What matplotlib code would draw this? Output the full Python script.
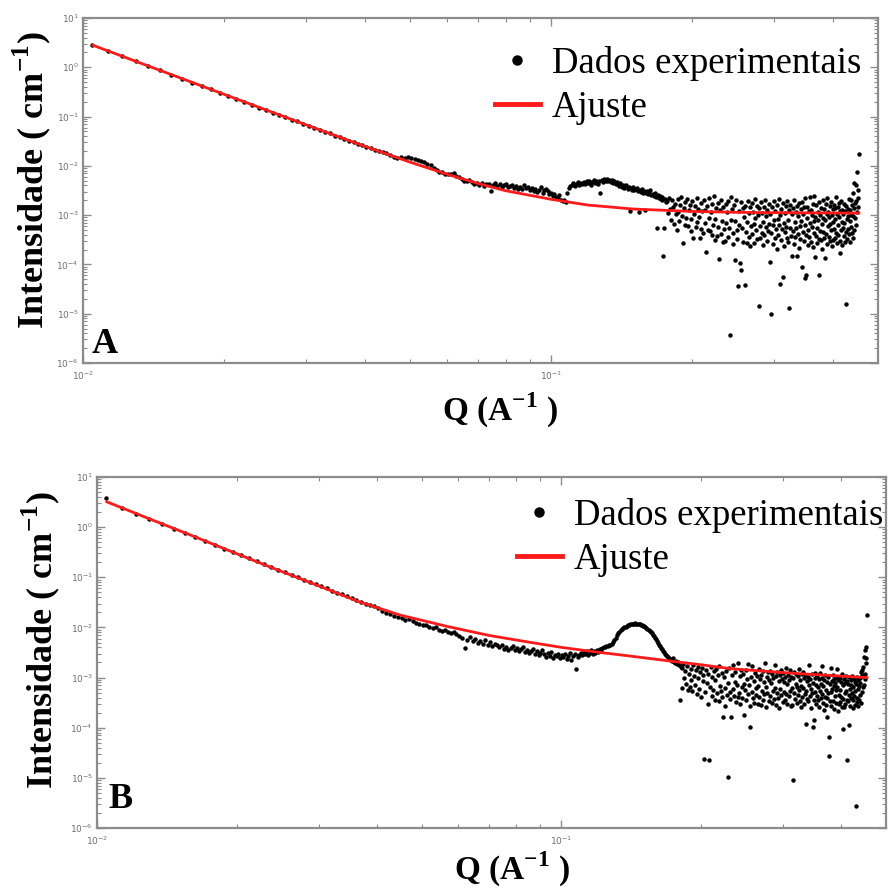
import numpy as np
import matplotlib
matplotlib.use("Agg")
import matplotlib.pyplot as plt
from matplotlib.lines import Line2D
from matplotlib.ticker import LogLocator, FuncFormatter, NullFormatter

plt.rcParams["mathtext.fontset"] = "custom"
plt.rcParams["mathtext.rm"] = "Liberation Serif"
plt.rcParams["mathtext.bf"] = "Liberation Serif:bold"
plt.rcParams["mathtext.sf"] = "DejaVu Sans"

# ---------------------------------------------------------------------------
# Measured q grid (uniform instrument binning, 1/Angstrom)
Q_START = 0.01047
Q_STEP = 0.00083

# Sample A: log10 of intensity (cm^-1) on the q grid
A_LOW = [0.45, 0.34, 0.22, 0.12, 0.03, -0.06, -0.15, -0.23, -0.31, -0.38,
         -0.45, -0.52, -0.58, -0.64, -0.70, -0.76, -0.82, -0.87, -0.92, -0.97,
         -1.01, -1.06, -1.10, -1.15, -1.19, -1.23, -1.27, -1.31, -1.34, -1.39,
         -1.42, -1.45, -1.49, -1.51, -1.56, -1.58, -1.61, -1.63, -1.68, -1.69,
         -1.71, -1.73, -1.77, -1.82, -1.85]
A_MID = [-1.82, -1.84, -1.83, -1.85, -1.87, -1.88, -1.91, -1.92, -1.96, -1.99,
         -2.05, -2.09, -2.12, -2.13, -2.16, -2.17, -2.16, -2.14, -2.20, -2.22,
         -2.27, -2.30, -2.31, -2.29, -2.33, -2.36, -2.34, -2.38, -2.35, -2.41, -2.37,
         -2.36, -2.52, -2.38, -2.35, -2.40, -2.37, -2.42, -2.39, -2.36, -2.43,
         -2.41, -2.38, -2.44, -2.40, -2.46, -2.42, -2.47, -2.39, -2.45, -2.43,
         -2.48, -2.44, -2.51, -2.46, -2.53, -2.49, -2.42, -2.55, -2.50, -2.47,
         -2.52, -2.58, -2.55, -2.61, -2.57, -2.63, -2.66, -2.60, -2.69, -2.72,
         -2.70, -2.74, -2.55, -2.45, -2.40,
         -2.38, -2.35, -2.40, -2.36, -2.33, -2.39, -2.34, -2.37, -2.32, -2.36,
         -2.31, -2.35, -2.30, -2.38, -2.33, -2.29, -2.34, -2.31, -2.36, -2.30,
         -2.55, -2.28, -2.32, -2.27, -2.30, -2.26, -2.31, -2.28, -2.33, -2.29,
         -2.34, -2.31, -2.36, -2.33,
         -2.37, -2.40, -2.35, -2.42, -2.38, -2.44, -2.41, -2.39, -2.46, -2.43,
         -2.91, -2.45, -2.48, -2.42, -2.50, -2.47, -2.44, -2.52, -2.93, -2.49,
         -2.53, -2.47, -2.55, -2.51, -2.90, -2.56, -2.52, -2.58, -2.54, -2.49,
         -2.60, -2.57, -2.62, -2.55, -2.63, -3.27, -2.59, -2.66, -2.61, -2.68,
         -2.64, -2.70, -3.83, -3.27, -2.67, -2.73]
A_HIGH = [-2.72, -2.95, -2.66, -2.88, -3.10, -2.70, -2.84, -3.18, -2.78, -2.98,
          -3.31, -2.68, -2.93, -3.12, -2.80, -2.64, -3.02, -3.57, -2.86, -3.20,
          -2.74, -3.06, -2.67, -3.22, -2.90, -2.79, -3.08, -3.33, -2.71, -3.47,
          -2.97, -2.82, -3.25, -2.65, -3.14, -2.87, -3.04, -3.47, -2.76, -3.28,
          -2.92, -3.36, -2.70, -3.16, -2.89, -3.74, -2.81, -3.30, -3.05, -2.66,
          -3.33, -2.94, -3.40, -2.78, -3.19, -2.62, -3.50, -3.07, -2.86, -3.42,
          -2.75, -3.24, -3.88, -2.90, -3.38, -2.69, -3.11, -3.54, -2.84, -3.29,
          -3.52, -2.77, -3.15, -2.93, -3.45, -2.72, -3.26, -5.43, -2.63, -3.09,
          -2.88, -3.37, -3.58, -2.80, -3.91, -3.12, -2.70, -3.31, -3.48, -4.44,
          -2.91, -3.20, -3.98, -2.74, -4.11, -3.27, -2.85, -3.55, -3.03, -4.42,
          -2.82, -3.34, -3.57, -3.14, -2.71, -3.44, -2.96, -2.83, -3.62, -3.22,
          -2.76, -3.39, -2.93, -3.17, -3.56, -2.67, -3.06, -3.30, -2.81, -3.49,
          -3.00, -2.86, -4.84, -3.47, -3.23, -2.73, -3.36, -2.95, -3.60, -3.13,
          -2.84, -3.41, -2.69, -3.25, -3.01, -3.53, -2.89, -3.32, -2.78, -3.18,
          -3.96, -2.97, -5.01, -3.37, -2.83, -3.21, -3.58, -2.72, -3.10, -3.46,
          -2.92, -3.29, -3.69, -2.79, -3.08, -3.40, -2.68, -3.19, -4.40, -2.99,
          -3.51, -2.87, -3.28, -4.25, -2.75, -3.16, -3.63, -2.96, -3.35, -2.82,
          -3.24, -3.47, -2.71, -3.09, -3.55, -2.90, -4.89, -3.26, -2.80, -3.42,
          -3.83, -2.97, -2.85, -3.33, -3.59, -2.70, -3.14, -3.44, -2.93, -3.27,
          -3.83, -2.81, -3.38, -3.02, -3.66, -2.76, -3.22, -3.49, -2.88, -3.11,
          -4.06, -2.74, -3.35, -2.98, -3.52, -2.84, -3.19, -4.28, -2.66, -3.40,
          -4.21, -3.06, -2.83, -3.30, -3.61, -2.92, -3.45, -2.64, -3.15, -3.54,
          -2.89, -3.25, -3.00, -3.64, -2.77, -3.36, -3.12, -2.62, -3.84, -3.04,
          -3.43, -2.80, -3.27, -3.57, -2.94, -3.09, -3.48, -4.21, -2.73, -3.32,
          -2.99, -3.50, -2.85, -3.18, -3.68, -2.70, -3.34, -3.05, -2.87, -3.46,
          -3.86, -3.10, -2.78, -3.39, -2.97, -3.59, -2.65, -3.23, -2.93, -3.44,
          -3.03, -2.82, -3.53, -3.17, -2.74, -3.31, -2.99, -3.62, -2.88, -3.14,
          -3.50, -2.79, -3.28, -3.47, -2.86, -3.07, -2.63, -3.37, -2.98, -3.56,
          -2.84, -3.20, -3.41, -2.76, -3.04, -3.52, -3.76, -2.91, -3.30, -2.71,
          -3.13, -3.60, -2.89, -3.26, -2.97, -3.43, -2.78, -3.16, -3.54, -2.92,
          -3.35, -4.81, -2.81, -3.08, -3.49, -2.87, -3.29, -3.01, -2.68, -3.39,
          -3.12, -2.90, -3.55, -2.99, -2.69, -3.24, -2.80, -3.36, -2.56, -3.47,
          -3.02, -2.85, -2.35, -3.30, -2.75, -3.05, -2.38, -3.21, -2.72, -2.94,
          -2.12, -2.83, -2.65, -2.49, -1.76]

# Sample B: log10 of intensity (cm^-1) on the same q grid
B_LOW = [0.58, 0.39, 0.27, 0.17, 0.07, -0.03, -0.12, -0.20, -0.28, -0.36,
         -0.43, -0.50, -0.56, -0.62, -0.68, -0.74, -0.80, -0.85, -0.90, -0.95,
         -1.00, -1.05, -1.09, -1.14, -1.18, -1.22, -1.28, -1.31, -1.33, -1.38,
         -1.42, -1.45, -1.50, -1.54, -1.56, -1.58, -1.62]
B_MID = [-1.67, -1.71, -1.74, -1.77, -1.79, -1.82, -1.86, -1.84, -1.88, -1.91,
         -1.93, -1.96, -1.95, -1.99, -2.02, -2.00, -2.05, -2.08, -2.06, -2.10,
         -2.12, -2.09, -2.14, -2.17,
         -2.22, -2.41, -2.25, -2.19, -2.28, -2.24, -2.31, -2.27, -2.33, -2.26,
         -2.35, -2.30, -2.38, -2.33, -2.36,
         -2.40, -2.36, -2.43, -2.39, -2.45, -2.41, -2.37, -2.46, -2.42, -2.48,
         -2.44, -2.40, -2.49, -2.45, -2.51, -2.47, -2.43, -2.52, -2.48, -2.55,
         -2.50, -2.46, -2.53, -2.58, -2.51, -2.56, -2.49, -2.60, -2.54, -2.57,
         -2.52, -2.61, -2.55, -2.59, -2.53, -2.62, -2.57, -2.50, -2.64, -2.56,
         -2.53, -2.82, -2.58, -2.55, -2.50,
         -2.54, -2.49, -2.52, -2.47, -2.55, -2.50, -2.46, -2.53, -2.48, -2.51,
         -2.45, -2.49, -2.44, -2.47, -2.42, -2.40]
B_PEAK = [-2.39, -2.37, -2.38, -2.35, -2.36, -2.33, -2.30, -2.26, -2.21, -2.16,
          -2.12, -2.09, -2.06, -2.04, -2.02, -2.00, -1.99, -1.97, -1.96, -1.95,
          -1.94, -1.94, -1.93, -1.93, -1.92, -1.93, -1.93, -1.93, -1.94, -1.95,
          -1.96, -1.97, -1.98, -1.99, -2.01, -2.03, -2.05, -2.07, -2.10, -2.12,
          -2.15, -2.18, -2.21, -2.24, -2.28, -2.32, -2.35, -2.38, -2.41, -2.44,
          -2.47, -2.49, -2.52, -2.54, -2.56, -2.58, -2.60, -2.62, -2.64, -2.66,
          -2.61, -2.68, -2.70, -2.66, -2.72, -2.69, -2.75, -3.45, -2.78]
B_HIGH = [-2.80, -3.20, -2.72, -3.00, -2.86, -3.12, -2.76, -3.24, -2.93, -3.18,
          -2.83, -3.04, -3.27, -2.74, -2.96, -3.15, -2.85, -3.33, -2.78, -3.01,
          -3.22, -2.88, -3.39, -2.81, -3.07, -2.95, -4.62, -3.28, -2.84, -3.11,
          -3.52, -2.92, -4.64, -3.19, -2.79, -3.36, -2.98, -3.25, -2.87, -3.44,
          -3.05, -2.82, -3.31, -2.94, -3.47, -2.77, -3.16, -3.26, -2.91, -3.38,
          -3.78, -2.99, -3.57, -3.21, -2.86, -3.34, -4.98, -3.10, -2.80, -3.29,
          -3.43, -3.78, -2.95, -3.23, -2.75, -3.37, -3.08, -2.89, -3.49, -3.14,
          -3.38, -2.71, -3.30, -2.97, -3.53, -2.85, -3.18, -3.41, -2.93, -3.12,
          -3.75, -3.24, -2.84, -3.45, -3.02, -3.33, -2.73, -3.15, -3.56, -3.98,
          -2.99, -3.29, -2.76, -3.40, -3.06, -3.50, -2.90, -3.21, -3.35, -2.96,
          -3.52, -3.17, -2.82, -3.39, -3.03, -3.55, -2.94, -3.26, -2.87, -3.44,
          -3.08, -3.32, -2.70, -3.19, -3.58, -2.98, -3.30, -2.89, -3.46, -3.04,
          -2.86, -3.36, -3.11, -3.51, -2.93, -3.27, -3.01, -3.42, -2.75, -3.20,
          -3.54, -2.97, -3.31, -2.88, -3.40, -3.06, -3.61, -2.95, -3.23, -2.84,
          -3.35, -3.02, -3.48, -2.91, -3.28, -3.09, -3.44, -2.99, -2.80, -3.32,
          -3.13, -3.52, -2.94, -3.37, -3.04, -2.85, -3.26, -3.57, -2.98, -3.21,
          -3.55, -3.00, -5.05, -3.30, -2.89, -3.43, -3.12, -2.93, -3.50, -3.18,
          -2.96, -3.34, -2.83, -3.25, -3.47, -3.05, -3.58, -3.16, -2.92, -3.39,
          -3.20, -2.88, -3.53, -3.01, -3.33, -2.95, -3.92, -3.27, -3.07, -3.42,
          -2.99, -3.46, -3.14, -2.74, -3.36, -3.03, -3.60, -3.22, -2.93, -3.31,
          -3.99, -3.10, -3.44, -3.85, -3.00, -3.29, -2.90, -3.52, -3.15, -3.37,
          -2.97, -3.45, -3.18, -3.02, -3.59, -3.26, -2.91, -3.40, -3.12, -2.76,
          -3.33, -3.01, -3.50, -3.17, -3.64, -3.04, -3.38, -2.94, -3.24, -3.55,
          -3.08, -3.41, -3.78, -2.98, -3.30, -4.18, -4.57, -3.13, -3.47, -2.80,
          -3.28, -3.56, -3.06, -3.22, -2.95, -3.46, -3.16, -3.62, -3.02, -3.37,
          -3.10, -3.51, -3.25, -2.99, -2.82, -3.19, -3.66, -3.04, -3.34, -3.53,
          -3.00, -3.24, -3.48, -3.09, -3.39, -2.93, -3.58, -4.02, -3.14, -3.43,
          -3.03, -3.58, -3.31, -3.11, -3.52, -2.97, -3.27, -3.44, -4.64, -3.07,
          -3.46, -3.12, -3.35, -2.99, -3.95, -3.23, -3.57, -3.05, -3.40, -3.15,
          -3.30, -2.96, -3.60, -3.18, -3.45, -3.02, -3.36, -3.54, -3.09, -3.26,
          -5.57, -3.13, -3.48, -2.98, -3.41, -3.22, -3.04, -3.57, -3.17, -3.45,
          -3.01, -3.34, -3.10, -2.89, -3.50, -2.95, -3.28, -2.84, -2.79, -3.19,
          -2.97, -3.15, -2.59, -2.92, -3.03, -2.45, -2.70, -2.39, -2.60, -1.75]

# Fitted model curves (q, intensity)
FIT_A_Q = [0.0105, 0.013, 0.016, 0.02, 0.025, 0.03, 0.035, 0.04, 0.05, 0.06,
           0.07, 0.08, 0.1, 0.12, 0.15, 0.2, 0.25, 0.3, 0.38, 0.455]
FIT_A_I = [2.80, 1.31, 0.627, 0.284, 0.129, 0.0678, 0.0396, 0.0250, 0.0119,
           0.00675, 0.00437, 0.00313, 0.0021, 0.00160, 0.00133, 0.00119,
           0.00114, 0.00112, 0.00111, 0.00110]
FIT_B_Q = [0.0105, 0.013, 0.016, 0.019, 0.023, 0.028, 0.0367, 0.045, 0.0572,
           0.07, 0.085, 0.1, 0.12, 0.14, 0.167, 0.2, 0.232, 0.27, 0.323, 0.38,
           0.455]
FIT_B_I = [3.2, 1.45, 0.68, 0.357, 0.176, 0.0868, 0.0324, 0.0176, 0.0103,
           0.0069, 0.0051, 0.0040, 0.0032, 0.0027, 0.0022, 0.0018, 0.0015,
           0.00135, 0.0012, 0.0011, 0.0010]

LEGEND_LABELS = ["Dados experimentais", "Ajuste"]
PANEL_LETTERS = ["A", "B"]
YLABEL = r"Intensidade ( cm$^{\mathbf{-1}}$)"
XLABEL = r"Q (A$^{\mathbf{-1}}$ )"

# ---------------------------------------------------------------------------
W, H = 888, 891
fig = plt.figure(figsize=(W / 100, H / 100), dpi=100)
fig.patch.set_facecolor("white")

SERIF = "Liberation Serif"
SPINE_C = "#8c8c8c"


def px_rect(left, top, right, bottom):
    return [left / W, 1 - bottom / H, (right - left) / W, (bottom - top) / H]


def log_label(v, pos):
    e = int(round(np.log10(v)))
    return r"$\mathsf{10^{%d}}$" % e


def setup_axes(ax):
    ax.set_xscale("log")
    ax.set_yscale("log")
    ax.set_xlim(0.01, 0.5)
    ax.set_ylim(1e-6, 10)
    ax.xaxis.set_major_locator(LogLocator(base=10, numticks=10))
    ax.yaxis.set_major_locator(LogLocator(base=10, numticks=20))
    ax.xaxis.set_minor_locator(LogLocator(base=10, subs=np.arange(2, 10), numticks=20))
    ax.yaxis.set_minor_locator(LogLocator(base=10, subs=np.arange(2, 10), numticks=20))
    ax.xaxis.set_major_formatter(FuncFormatter(log_label))
    ax.yaxis.set_major_formatter(FuncFormatter(log_label))
    ax.xaxis.set_minor_formatter(NullFormatter())
    ax.yaxis.set_minor_formatter(NullFormatter())
    ax.tick_params(which="both", direction="in", top=True, right=True,
                   color=SPINE_C, labelcolor="#707070", labelsize=6.5)
    ax.tick_params(which="major", length=6, width=1.0)
    ax.tick_params(which="minor", length=3, width=0.8)
    ax.tick_params(axis="y", pad=3)
    ax.tick_params(axis="x", pad=5)
    for s in ax.spines.values():
        s.set_color(SPINE_C)
        s.set_linewidth(1.6)


panels = [
    dict(rect=px_rect(83, 18, 878, 363), logI=A_LOW + A_MID + A_HIGH,
         fq=FIT_A_Q, fi=FIT_A_I, letter_xy=(92, 353), ylab=(43, 180),
         xlab=(500, 421), leg=(495, 46)),
    dict(rect=px_rect(97, 477, 886, 828), logI=B_LOW + B_MID + B_PEAK + B_HIGH,
         fq=FIT_B_Q, fi=FIT_B_I, letter_xy=(108, 808), ylab=(52, 640),
         xlab=(512, 880), leg=(517, 498)),
]

for k, p in enumerate(panels):
    ax = fig.add_axes(p["rect"])
    setup_axes(ax)
    logI = np.asarray(p["logI"], dtype=float)
    q = Q_START + Q_STEP * np.arange(len(logI))
    ax.plot(q, 10 ** logI, linestyle="none", marker="o", markersize=3.2,
            color="black", markeredgewidth=0, zorder=2)
    ax.plot(p["fq"], p["fi"], color="#ff1a1a", linewidth=2.0, zorder=3)

    lx, ly = p["letter_xy"]
    fig.text(lx / W, 1 - ly / H, PANEL_LETTERS[k], fontfamily=SERIF,
             fontweight="bold", fontsize=26, ha="left", va="baseline")

    yx, yy = p["ylab"]
    fig.text(yx / W, 1 - yy / H, YLABEL, fontfamily=SERIF, fontweight="bold",
             fontsize=26, rotation=90, rotation_mode="anchor",
             ha="center", va="baseline")

    xx, xy = p["xlab"]
    fig.text(xx / W, 1 - xy / H, XLABEL, fontfamily=SERIF, fontweight="bold",
             fontsize=24, ha="center", va="baseline")

    handles = [Line2D([], [], linestyle="none", marker="o", markersize=7.5,
                      color="black", markeredgewidth=0),
               Line2D([], [], color="#ff1a1a", linewidth=3.5)]
    gx, gy = p["leg"]
    ax.legend(handles, LEGEND_LABELS, loc="upper left",
              bbox_to_anchor=(gx / W, 1 - gy / H), bbox_transform=fig.transFigure,
              frameon=False, borderpad=0, borderaxespad=0, handlelength=1.22,
              handletextpad=0.33, labelspacing=0.25,
              prop=dict(family=SERIF, size=26.5))

fig.savefig("out.png", dpi=100, facecolor="white")
